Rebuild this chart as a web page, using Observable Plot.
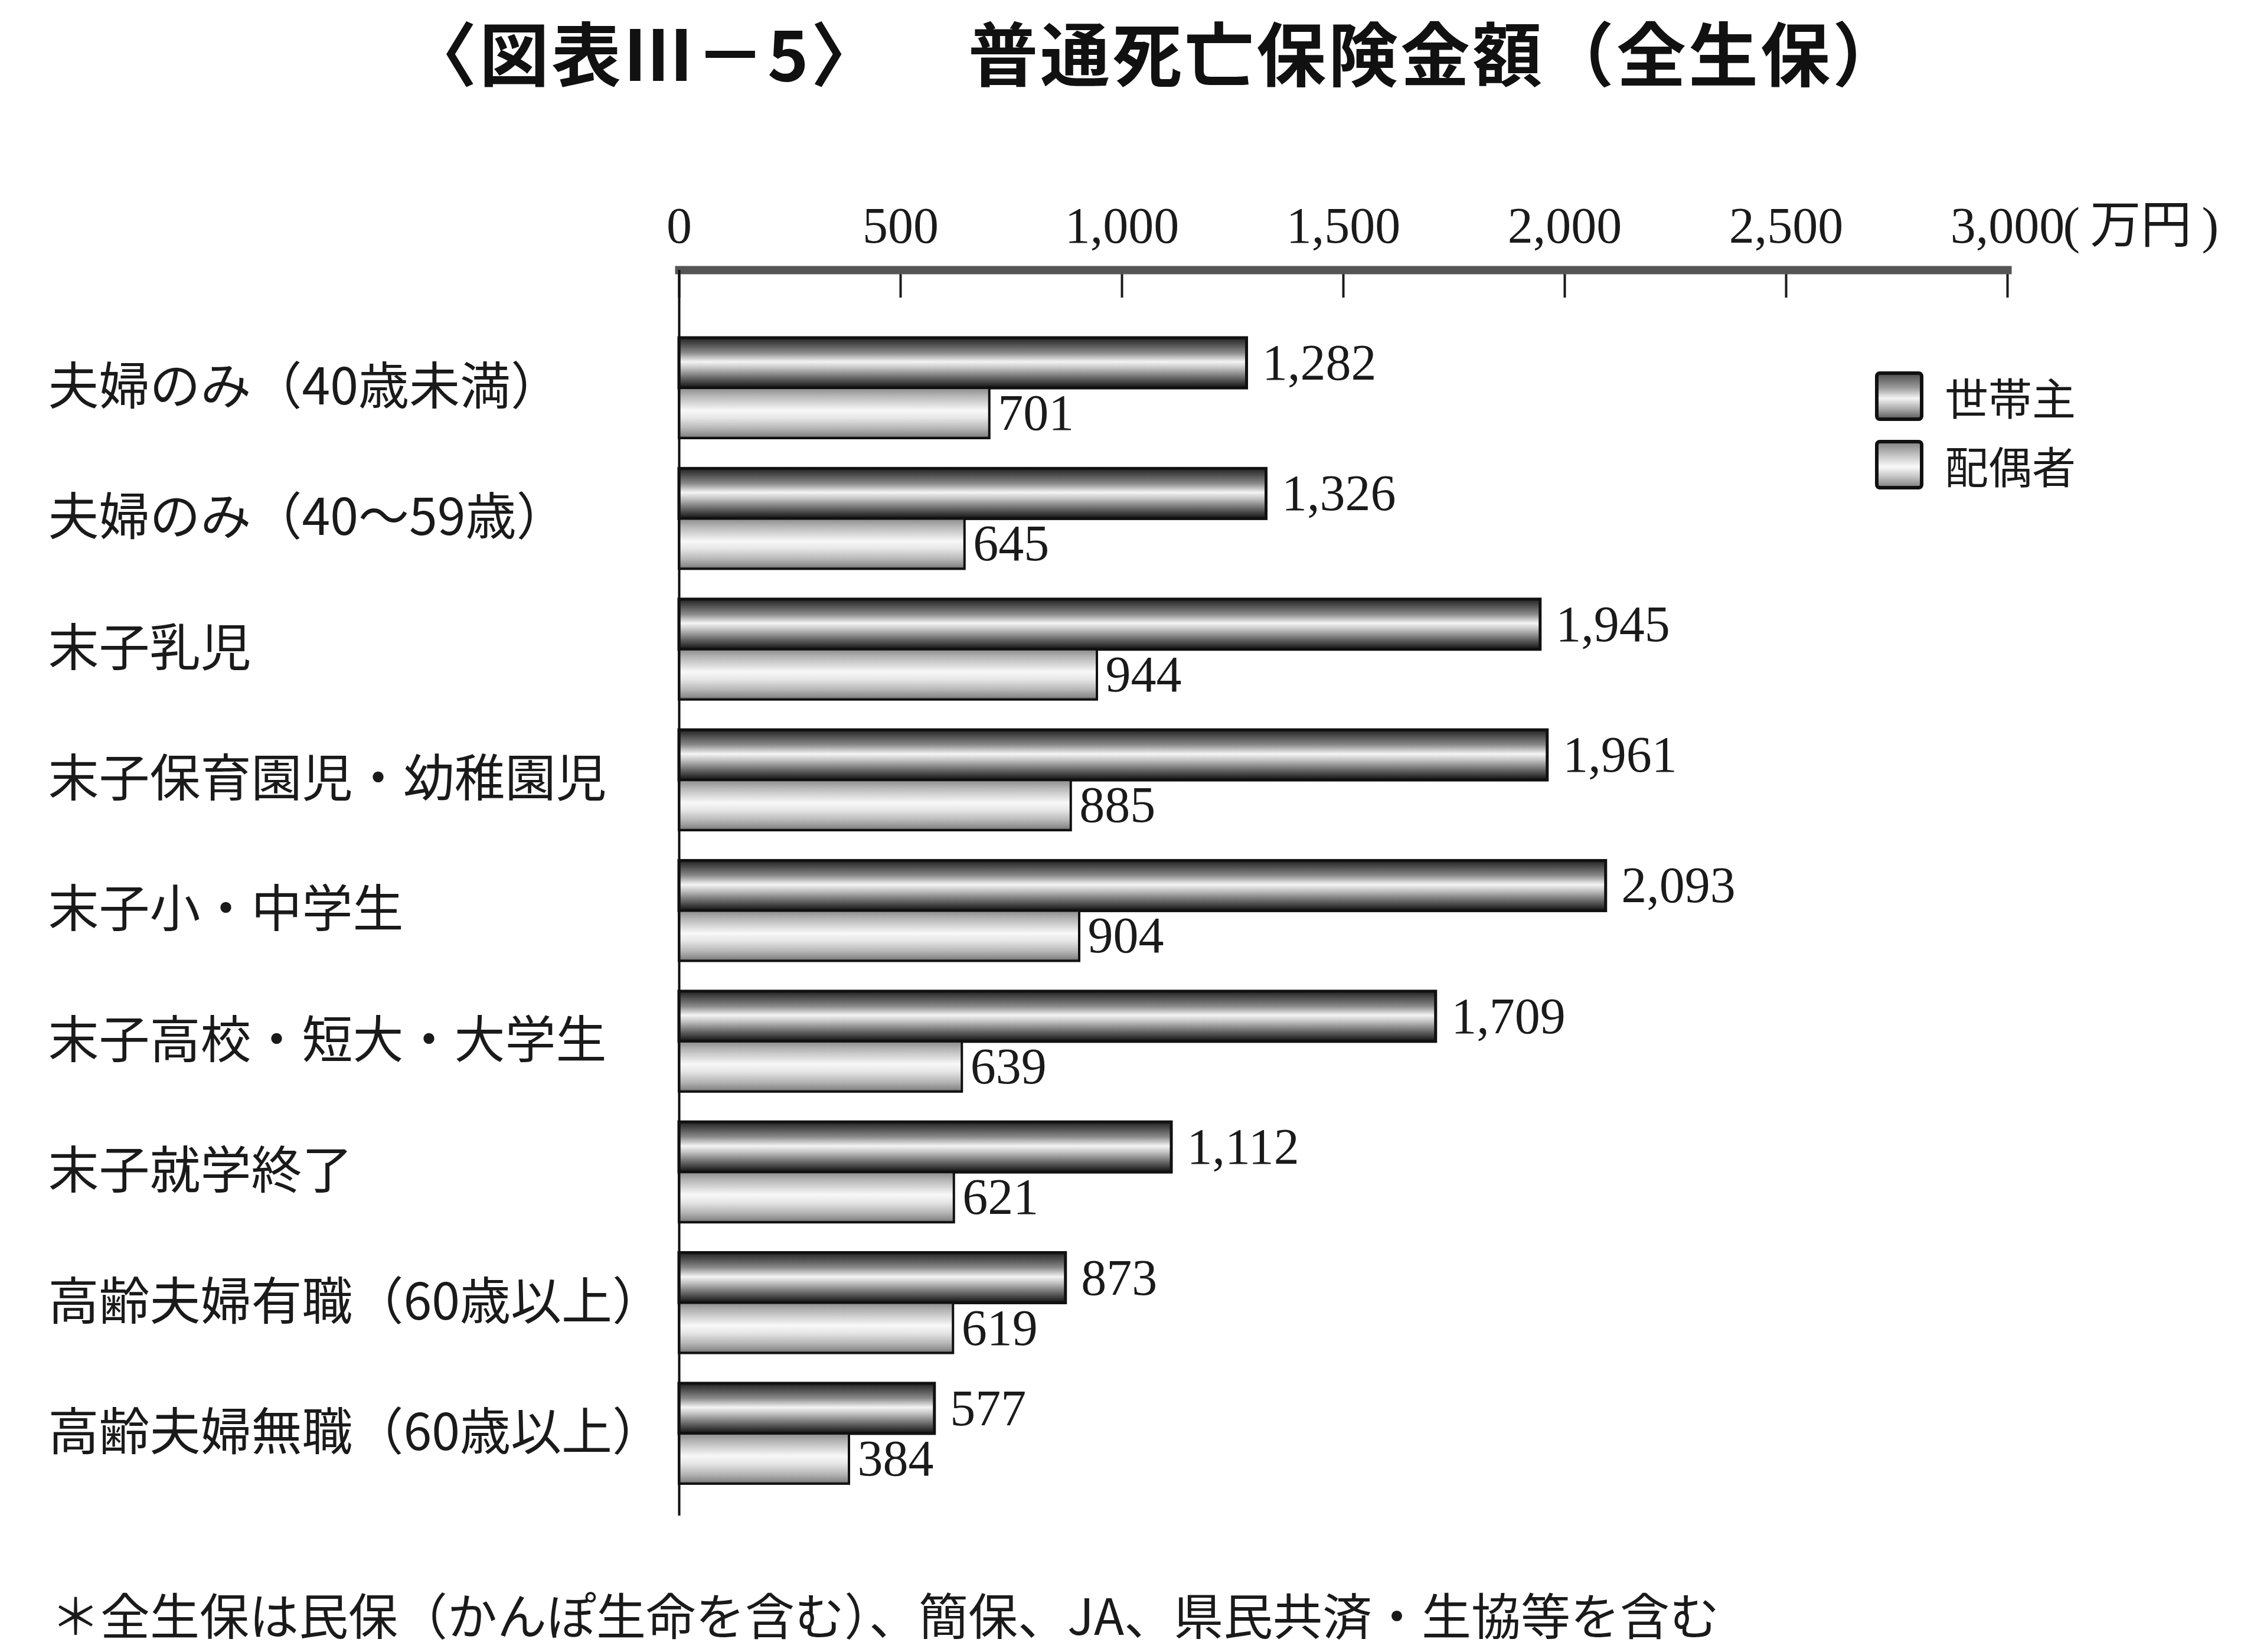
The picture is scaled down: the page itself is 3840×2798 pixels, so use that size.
<!DOCTYPE html>
<html><head><meta charset="utf-8">
<script src="https://cdn.jsdelivr.net/npm/d3@7"></script>
<script src="https://cdn.jsdelivr.net/npm/@observablehq/plot@0.6"></script>
<style>
body{margin:0;background:#fff;width:3840px;height:2798px;position:relative;overflow:hidden;font-family:"Noto Sans CJK JP",sans-serif;color:#1a1a1a}
#title{position:absolute;top:0;left:0;width:3840px;height:200px;font-size:118px;font-weight:700;line-height:normal;color:#111}
#title span{position:absolute;top:0;white-space:nowrap;letter-spacing:4px}
#chart{position:absolute;top:250px;left:0}
#legend{position:absolute;left:3176px;top:629px;width:400px;height:200px}
.item{position:absolute;left:0;white-space:nowrap;height:86px;width:400px}
.sw{position:absolute;left:0;top:0;width:70px;height:72px;border:6px solid #111;border-radius:8px}
.lab{position:absolute;left:118px;top:0;font-size:74px;line-height:84px}
#note{position:absolute;left:86px;top:2672px;font-size:84px;line-height:normal;white-space:nowrap}
</style>
</head><body>
<div id="title"></div>
<div id="chart"></div>
<div id="legend"></div>
<div id="note"></div>
<script>
const categories = ["夫婦のみ（40歳未満）","夫婦のみ（40～59歳）","末子乳児","末子保育園児・幼稚園児","末子小・中学生","末子高校・短大・大学生","末子就学終了","高齢夫婦有職（60歳以上）","高齢夫婦無職（60歳以上）"];
const householdHead = [1282,1326,1945,1961,2093,1709,1112,873,577];
const spouse = [701,645,944,885,904,639,621,619,384];
const seriesNames = ["世帯主","配偶者"];
const xTicks = [0,500,1000,1500,2000,2500,3000];
const unitLabel = "(\u2009万円\u2009)";
const titleParts = ["〈図表Ⅲ－5〉","普通死亡保険金額（全生保）"];
const noteText = "＊全生保は民保（かんぽ生命を含む）、簡保、JA、県民共済・生協等を含む";

const headData = categories.map((c,i)=>({category:c, value:householdHead[i], series:seriesNames[0]}));
const spouseData = categories.map((c,i)=>({category:c, value:spouse[i], series:seriesNames[1]}));
const fmt = d3.format(",");
const serif = "'Liberation Serif','Noto Sans CJK JP',serif";
const cjk = "'Noto Sans CJK JP',sans-serif";

// title
const t = document.getElementById("title");
t.innerHTML = `<span style="left:690px">${titleParts[0]}</span><span style="left:1640px">${titleParts[1]}</span>`;
document.getElementById("note").textContent = noteText;

const plot = Plot.plot({
  width: 3840, height: 2390,
  marginTop: 207, marginBottom: 73, marginLeft: 1150, marginRight: 440,
  style: {fontFamily: serif, fontSize: "86px", color: "#1a1a1a", background: "transparent", overflow: "visible"},
  x: {domain: [0, 3000], axis: null},
  y: {domain: categories, paddingInner: 0.232, paddingOuter: 0.382, align: 0.68, round: false, axis: null},
  marks: [
    Plot.barX(headData, {x: "value", y: "category", insetBottom: 85, fill: "url(#gradHead)", stroke: "#111", strokeWidth: 5}),
    Plot.barX(spouseData, {x: "value", y: "category", insetTop: 85, fill: "url(#gradSpouse)", stroke: "#111", strokeWidth: 4}),
    Plot.text(headData, {x: "value", y: "category", dy: -42, dx: 26, text: d => fmt(d.value), textAnchor: "start", fontSize: 86}),
    Plot.text(spouseData, {x: "value", y: "category", dy: 43, dx: 14, text: d => fmt(d.value), textAnchor: "start", fontSize: 86}),
    Plot.text(categories, {y: d => d, frameAnchor: "left", textAnchor: "start", dx: -1069, fontFamily: cjk, fontSize: 86}),
    Plot.axisX({anchor: "top", ticks: xTicks, tickSize: 0, tickPadding: 74, lineAnchor: "middle", tickFormat: fmt, fontSize: 86, label: null}),
    Plot.axisX({anchor: "top", ticks: xTicks, tickSize: -46, tickFormat: () => "", label: null, strokeWidth: 4}),
    Plot.text([xTicks[xTicks.length-1]], {x: d => d, frameAnchor: "top", dy: -74, dx: 94, text: () => unitLabel, textAnchor: "start", lineAnchor: "middle", fontSize: 86}),
    Plot.frame({anchor: "top", stroke: "#555", strokeWidth: 14}),
    Plot.ruleX([0], {stroke: "#111", strokeWidth: 4})
  ]
});

const svg = d3.select(plot);
const defs = svg.insert("defs", ":first-child");
function grad(id, stops) {
  const g = defs.append("linearGradient").attr("id", id).attr("x1", 0).attr("y1", 0).attr("x2", 0).attr("y2", 1);
  stops.forEach(([o, c]) => g.append("stop").attr("offset", o).attr("stop-color", c));
}
grad("gradHead", [[0,"#222"],[0.12,"#4a4a4a"],[0.3,"#8a8a8a"],[0.48,"#f4f4f4"],[0.6,"#c4c4c4"],[0.76,"#7a7a7a"],[0.92,"#333"],[1,"#111"]]);
grad("gradSpouse", [[0,"#8a8a8a"],[0.15,"#b4b4b4"],[0.45,"#f8f8f8"],[0.6,"#e6e6e6"],[0.8,"#b8b8b8"],[0.95,"#8a8a8a"],[1,"#555"]]);
document.getElementById("chart").appendChild(plot);

// legend
const lg = document.getElementById("legend");
const swatches = ["linear-gradient(to bottom,#555,#9a9a9a 30%,#f4f4f4 55%,#aaa 80%,#666)", "linear-gradient(to bottom,#888,#c8c8c8 30%,#fafafa 55%,#c0c0c0 80%,#888)"];
seriesNames.forEach((s, i) => {
  const it = document.createElement("div");
  it.className = "item";
  it.style.top = (i * 116) + "px";
  it.innerHTML = `<div class="sw" style="background:${swatches[i]}"></div><div class="lab">${s}</div>`;
  lg.appendChild(it);
});
</script>
</body></html>
